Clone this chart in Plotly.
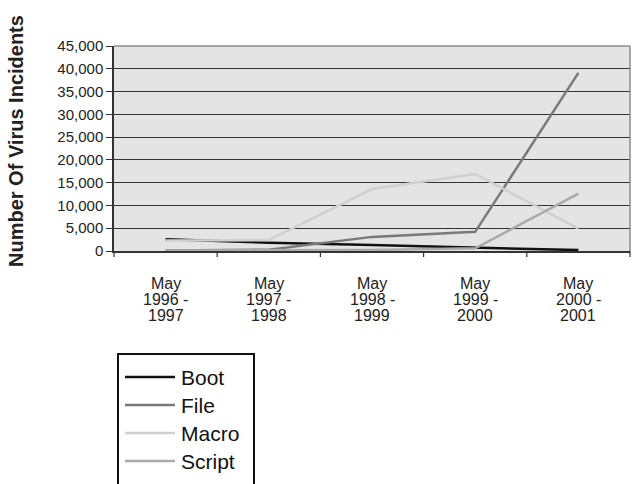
import plotly.graph_objects as go

# Reporting periods (one entry per label line) and incident counts per virus type
periods = [["May", "1996 -", "1997"], ["May", "1997 -", "1998"], ["May", "1998 -", "1999"],
           ["May", "1999 -", "2000"], ["May", "2000 -", "2001"]]
boot = [2600, 1800, 1300, 700, 200]
file_ = [100, 300, 3100, 4200, 39100]
macro = [2300, 2400, 13600, 16900, 4900]
script = [100, 100, 200, 600, 12600]

series_names = ["Boot", "File", "Macro", "Script"]
series_values = [boot, file_, macro, script]
series_colors = ["#111111", "#7a7a7a", "#d0d0d0", "#a9a9a9"]

y_ticks = list(range(0, 45001, 5000))

W, H = 636, 484
L, R, T, B = 114, 6, 46, 233
PW, PH = W - L - R, H - T - B


def px_x(px):
    return (px - L) / PW


def px_y(py):
    return (H - B - py) / PH


xs = list(range(len(periods)))

fig = go.Figure()
for name, vals, col in zip(series_names, series_values, series_colors):
    fig.add_trace(go.Scatter(x=xs, y=vals, name=name, mode="lines",
                             line=dict(color=col, width=2.5), showlegend=False))

font_family = "Liberation Sans, Arial, sans-serif"

fig.update_layout(
    width=W, height=H,
    margin=dict(l=L, r=R, t=T, b=B),
    paper_bgcolor="white",
    plot_bgcolor="#e4e4e4",
    font=dict(family=font_family, color="#222222"),
    xaxis=dict(
        tickmode="array", tickvals=xs, ticktext=["" for _ in xs],
        range=[-0.5, len(periods) - 0.5],
        showgrid=False, zeroline=False,
        showline=True, linecolor="#333333", linewidth=1.5,
        ticks="",
    ),
    yaxis=dict(
        range=[0, 45000], tickvals=y_ticks, tickformat=",",
        showgrid=True, gridcolor="#333333", gridwidth=1.2,
        zeroline=False,
        showline=True, linecolor="#333333", linewidth=1.5,
        ticks="outside", ticklen=6, tickcolor="#333333",
        tickfont=dict(size=15, color="#222222"),
    ),
)

# Category boundary ticks on the x axis
for i in range(len(periods) + 1):
    fig.add_shape(type="line", xref="paper", yref="paper",
                  x0=i / len(periods), x1=i / len(periods),
                  y0=0, y1=px_y(H - B + 6),
                  line=dict(color="#333333", width=1.2))

# Period labels under each category, one line at a time
line_y = [283, 299, 315]
for xi, lines in zip(xs, periods):
    for txt, ly in zip(lines, line_y):
        fig.add_annotation(text=txt, xref="x", yref="paper", x=xi, y=px_y(ly),
                           xanchor="center", yanchor="middle", showarrow=False,
                           font=dict(size=16, color="#222222", family=font_family))

# Frame on the top and right edges of the plot area
fig.add_shape(type="line", xref="paper", yref="paper", x0=0, x1=1, y0=1, y1=1,
              line=dict(color="#8c8c8c", width=1.5))
fig.add_shape(type="line", xref="paper", yref="paper", x0=1, x1=1, y0=0, y1=1,
              line=dict(color="#8c8c8c", width=1.5))

# Y axis title
fig.add_annotation(text="<b>Number Of Virus Incidents</b>", xref="paper", yref="paper",
                   x=px_x(16), y=px_y(141), textangle=-90, showarrow=False,
                   font=dict(size=20, color="#222222", family=font_family),
                   xanchor="center", yanchor="middle")

# Legend box with line samples
fig.add_shape(type="rect", xref="paper", yref="paper",
              x0=px_x(118), x1=px_x(254), y0=px_y(354), y1=px_y(495),
              line=dict(color="#111111", width=2), fillcolor="white")
legend_y = [377, 405, 433, 461]
for name, col, ly in zip(series_names, series_colors, legend_y):
    fig.add_shape(type="line", xref="paper", yref="paper",
                  x0=px_x(125), x1=px_x(175), y0=px_y(ly), y1=px_y(ly),
                  line=dict(color=col, width=2.5))
    fig.add_annotation(text=name, xref="paper", yref="paper", x=px_x(179), y=px_y(ly),
                       xanchor="left", yanchor="middle", showarrow=False,
                       font=dict(size=21, color="#111111", family=font_family))

fig.write_html("out.html")
